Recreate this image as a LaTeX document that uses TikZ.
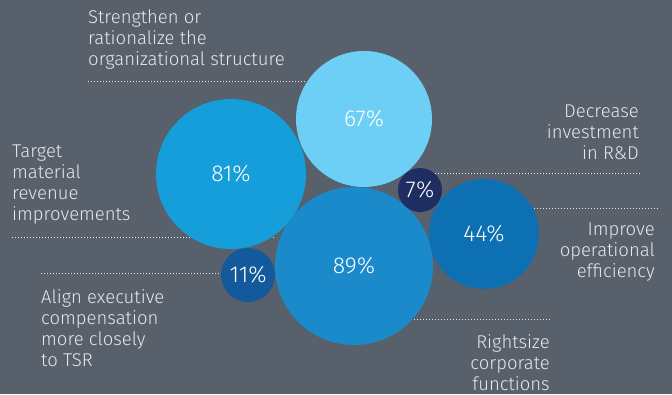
\documentclass[tikz,border=0pt]{standalone}
\usepackage{fontspec}
\setmainfont{Fira Sans}[UprightFont={* Light}]
\definecolor{bg}{HTML}{57606B}
\definecolor{txt}{HTML}{E6E8EB}
\definecolor{cA}{HTML}{6DCFF6}
\definecolor{cB}{HTML}{159ED9}
\definecolor{cC}{HTML}{1B8ACB}
\definecolor{cD}{HTML}{0D70B3}
\definecolor{cE}{HTML}{1E2D62}
\definecolor{cF}{HTML}{135A9C}
\tikzset{
  bubble/.style={circle, inner sep=0pt, text=white, font=\fontsize{23}{26}\selectfont},
  lbl/.style={inner sep=0pt, text=txt, font=\fontsize{18.5}{21}\selectfont},
  dotline/.style={draw=txt, line width=0.9pt, dash pattern=on 0.9pt off 2.1pt}
}
\begin{document}
\begin{tikzpicture}[x=1pt,y=-1pt]
\fill[bg] (0,0) rectangle (672,394);
\useasboundingbox (0,0) rectangle (672,394);
% labels
\node[lbl, anchor=north west, align=left] (l1) at (88,10) {Strengthen or\\rationalize the\\organizational structure};
\node[lbl, anchor=north west, align=left] (l2) at (12,145) {Target\\material\\revenue\\improvements};
\node[lbl, anchor=north west, align=left] (l3) at (41,289) {Align executive\\compensation\\more closely\\to TSR};
\node[lbl, anchor=north east, align=right] (l4) at (639,105) {Decrease\\investment\\in R\&D};
\node[lbl, anchor=north east, align=right] (l5) at (655,223) {Improve\\operational\\efficiency};
\node[lbl, anchor=north east, align=right] (l6) at (550,334) {Rightsize\\corporate\\functions};
% dotted leaders
\coordinate (d1a) at (88,81);  \coordinate (d1b) at (305,81);
\coordinate (d2a) at (12,237); \coordinate (d2b) at (275,237);
\coordinate (d3a) at (41,273); \coordinate (d3b) at (222,273);
\coordinate (d4a) at (435,173); \coordinate (d4b) at (640,173);
\coordinate (d5a) at (534,208); \coordinate (d5b) at (658,208);
\coordinate (d6a) at (414,319); \coordinate (d6b) at (551,319);
\draw[dotline] (d1a) -- (d1b);
\draw[dotline] (d2a) -- (d2b);
\draw[dotline] (d3a) -- (d3b);
\draw[dotline] (d4a) -- (d4b);
\draw[dotline] (d5a) -- (d5b);
\draw[dotline] (d6a) -- (d6b);
% bubbles
\node[bubble, fill=cA, minimum size=136pt] (b67) at (364,119) {67\%};
\node[bubble, fill=cB, minimum size=150pt] (b81) at (231,174) {81\%};
\node[bubble, fill=cC, minimum size=158pt] (b89) at (354,266) {89\%};
\node[bubble, fill=cD, minimum size=110pt] (b44) at (484,234) {44\%};
\node[bubble, fill=cE, minimum size=44pt] (b7) at (420,190) {7\%};
\node[bubble, fill=cF, minimum size=54pt] (b11) at (248,275) {11\%};
\end{tikzpicture}
\end{document}
